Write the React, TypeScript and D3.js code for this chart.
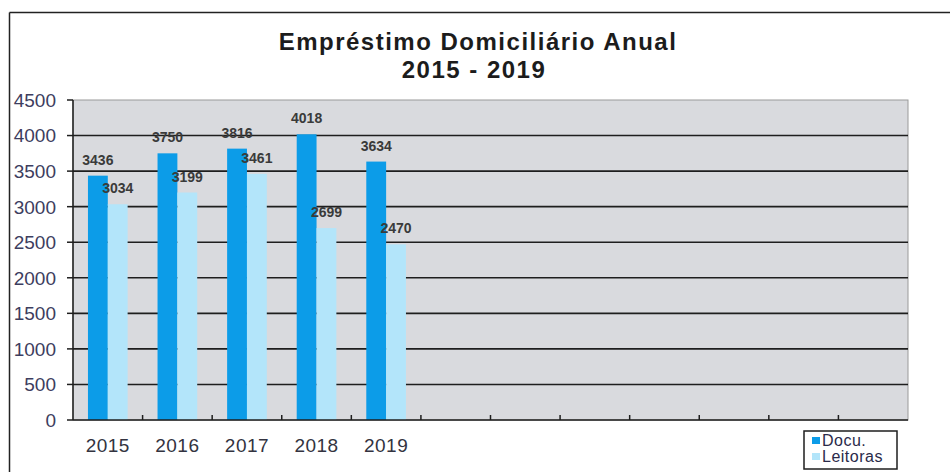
import React from "react";
import * as d3 from "d3";

const categories = ["2015", "2016", "2017", "2018", "2019", "c6", "c7", "c8", "c9", "c10", "c11", "c12"];
const shownLabels = ["2015", "2016", "2017", "2018", "2019"];
const seriesNames = ["Docu.", "Leitoras"];
const docuValues = [3436, 3750, 3816, 4018, 3634];
const leitorasValues = [3034, 3199, 3461, 2699, 2470];
const yTicks = [0, 500, 1000, 1500, 2000, 2500, 3000, 3500, 4000, 4500];
const titleLines = ["Empréstimo Domiciliário Anual", "2015 - 2019"];

const W = 950;
const H = 472;
const plot = { left: 73, right: 908, top: 100, bottom: 420 };
const colors = ["#0c9ce8", "#b3e5fa"];
const FONT = "'Liberation Sans', Arial, sans-serif";

export default function App() {
  const x = d3
    .scaleBand<string>()
    .domain(categories)
    .range([plot.left, plot.right])
    .paddingInner(0.43)
    .paddingOuter(0.215);
  const sub = d3.scaleBand<string>().domain(seriesNames).range([0, x.bandwidth()]).padding(0);
  const y = d3.scaleLinear().domain([0, 4500]).range([plot.bottom, plot.top]);
  const step = x.step();
  const boundaries = d3.range(1, categories.length).map((i) => plot.left + i * step);

  const series = [docuValues, leitorasValues];

  return (
    <svg
      width={W}
      height={H}
      style={{ position: "absolute", left: 0, top: 0, background: "#fff" }}
      fontFamily={FONT}
    >
      {/* outer frame */}
      <line x1={9.5} x2={W} y1={12.5} y2={12.5} stroke="#222" strokeWidth={1.5} />
      <line x1={9.5} x2={9.5} y1={12.5} y2={H} stroke="#222" strokeWidth={1.5} />

      {/* title */}
      <text x={478} y={50} textAnchor="middle" fontSize={24} fontWeight="bold" fill="#1c1c1c" letterSpacing={1.5}>
        {titleLines[0]}
      </text>
      <text x={474} y={78} textAnchor="middle" fontSize={24} fontWeight="bold" fill="#1c1c1c" letterSpacing={1.5}>
        {titleLines[1]}
      </text>

      {/* plot background */}
      <rect
        x={plot.left}
        y={plot.top}
        width={plot.right - plot.left}
        height={plot.bottom - plot.top}
        fill="#d9dade"
        stroke="#9a9a9a"
        strokeWidth={1}
      />

      {/* gridlines */}
      {yTicks
        .filter((t) => t > 0 && t < 4500)
        .map((t) => (
          <line
            key={"g" + t}
            x1={plot.left}
            x2={plot.right}
            y1={y(t)}
            y2={y(t)}
            stroke="#1e1e1e"
            strokeWidth={1.6}
          />
        ))}

      {/* bars */}
      {series.map((vals, si) =>
        vals.map((v, i) => (
          <rect
            key={"b" + si + "-" + i}
            x={(x(categories[i]) as number) + (sub(seriesNames[si]) as number)}
            y={y(v)}
            width={sub.bandwidth()}
            height={y(0) - y(v)}
            fill={colors[si]}
          />
        ))
      )}

      {/* data labels */}
      {series.map((vals, si) =>
        vals.map((v, i) => (
          <text
            key={"l" + si + "-" + i}
            x={(x(categories[i]) as number) + (sub(seriesNames[si]) as number) + sub.bandwidth() / 2}
            y={y(v) - 11}
            textAnchor="middle"
            fontSize={14}
            fontWeight="bold"
            fill="#3a3a3a"
          >
            {v}
          </text>
        ))
      )}

      {/* y axis */}
      <line x1={plot.left} x2={plot.left} y1={plot.top} y2={plot.bottom} stroke="#1e1e1e" strokeWidth={1.5} />
      {yTicks.map((t) => (
        <g key={"y" + t}>
          <line x1={plot.left - 6} x2={plot.left} y1={y(t)} y2={y(t)} stroke="#1e1e1e" strokeWidth={1.5} />
          <text
            x={56}
            y={y(t)}
            dy="0.36em"
            textAnchor="end"
            fontSize={19}
            fill="#3d3d5e"
          >
            {t}
          </text>
        </g>
      ))}

      {/* x axis */}
      <line x1={plot.left} x2={plot.right} y1={plot.bottom} y2={plot.bottom} stroke="#1e1e1e" strokeWidth={1.5} />
      {boundaries.map((bx, i) => (
        <line key={"t" + i} x1={bx} x2={bx} y1={plot.bottom} y2={plot.bottom - 5} stroke="#1e1e1e" strokeWidth={1.5} />
      ))}
      {shownLabels.map((c) => (
        <text
          key={"x" + c}
          x={(x(c) as number) + x.bandwidth() / 2}
          y={452}
          textAnchor="middle"
          fontSize={19}
          fill="#333340"
          letterSpacing={0.5}
        >
          {c}
        </text>
      ))}

      {/* legend */}
      <rect x={804} y={431} width={93} height={38} fill="#fff" stroke="#1e1e1e" strokeWidth={1.5} />
      {seriesNames.map((s, i) => (
        <g key={"lg" + s}>
          <rect x={812} y={437 + i * 16} width={8} height={7} fill={colors[i]} />
          <text x={822} y={446 + i * 16} fontSize={16} fill="#2a2a4a" letterSpacing={0.5}>
            {s}
          </text>
        </g>
      ))}
    </svg>
  );
}
